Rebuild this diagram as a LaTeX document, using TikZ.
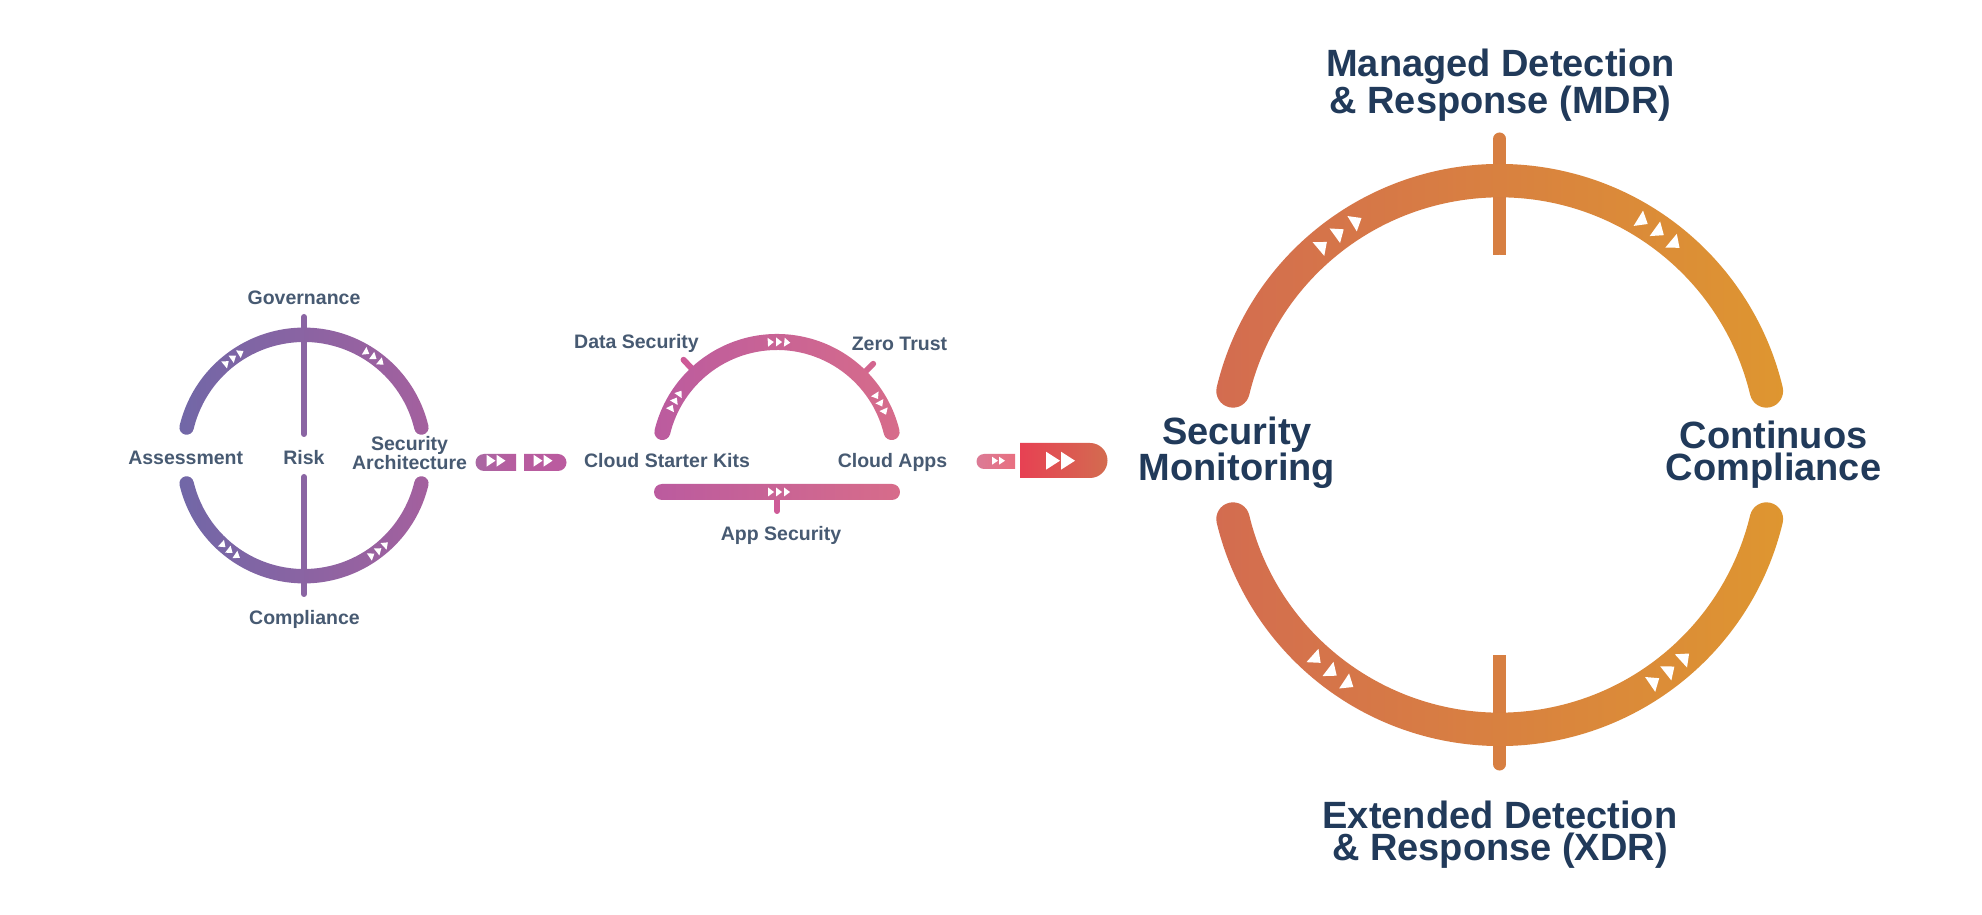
\documentclass[tikz,border=0pt]{standalone}
\usepackage{fontspec}
\setmainfont{Liberation Sans}
\definecolor{smalltxt}{HTML}{475A72}
\definecolor{bigtxt}{HTML}{213A5A}
\definecolor{purpleL}{HTML}{7167A7}
\definecolor{purpleM}{HTML}{8A65A3}
\definecolor{purpleR}{HTML}{A4609E}
\definecolor{pinkL}{HTML}{BB5B9F}
\definecolor{pinkM}{HTML}{CE5A97}
\definecolor{pinkR}{HTML}{D76C8A}
\definecolor{orangeL}{HTML}{D36C50}
\definecolor{orangeM}{HTML}{D77F42}
\definecolor{orangeR}{HTML}{DE9630}
% cx cy R halfwidth a1 a2 : clockwise band with round ends
\newcommand{\arcband}[6]{([shift={(#1,#2)}]#5:{#3+#4}) arc[start angle=#5,end angle=#6,radius={#3+#4}]
 arc[start angle=#6,end angle={#6-180},radius=#4]
 arc[start angle=#6,end angle=#5,radius={#3-#4}]
 arc[start angle={#5+180},end angle=#5,radius=#4] -- cycle}
% cx cy R angle base height rotation
\newcommand{\tip}[7]{\fill[white,shift={(#1,#2)},shift={(#4:#3)},rotate=#7] ({-#6/2},{-#5/2}) -- ({#6/2},0) -- ({-#6/2},{#5/2}) -- cycle;}
% three tips along an arc: cx cy R base height a b c, clockwise sign
\newcommand{\tripleCW}[8]{\tip{#1}{#2}{#3}{#6}{#4}{#5}{#6-90}\tip{#1}{#2}{#3}{#7}{#4}{#5}{#7-90}\tip{#1}{#2}{#3}{#8}{#4}{#5}{#8-90}}
\newcommand{\tripleCCW}[8]{\tip{#1}{#2}{#3}{#6}{#4}{#5}{#6+90}\tip{#1}{#2}{#3}{#7}{#4}{#5}{#7+90}\tip{#1}{#2}{#3}{#8}{#4}{#5}{#8+90}}
\tikzset{
 smalllbl/.style={text=smalltxt,font=\fontsize{19.5}{16}\selectfont\bfseries,align=center,inner sep=0pt,anchor=base},
 biglbl/.style={text=bigtxt,font=\fontsize{38}{32}\selectfont\bfseries,align=center,inner sep=0pt,anchor=base},
 purpleband/.style={left color=purpleL,middle color=purpleM,right color=purpleR},
 pinkband/.style={left color=pinkL,middle color=pinkM,right color=pinkR},
 orangeband/.style={left color=orangeL,middle color=orangeM,right color=orangeR},
 stubline/.style={line cap=round}
}
\begin{document}
\begin{tikzpicture}[x=1pt,y=1pt]
\useasboundingbox (0,0) rectangle (1982,914);
\fill[white] (0,0) rectangle (1982,914);
% left ring
\draw[purpleM,line width=6pt,stubline] (304,597) -- (304,480);
\draw[purpleM,line width=6pt,stubline] (304,437) -- (304,320);
\shade[purpleband] \arcband{304}{458.5}{120.7}{7.2}{166.6}{13.4};
\shade[purpleband] \arcband{304}{458.5}{120.7}{7.2}{-13.4}{-166.6};
\tripleCW{304}{458.5}{120.7}{9}{6}{130}{125.7}{121.5}
\tripleCW{304}{458.5}{120.7}{9}{6}{58.7}{54.5}{50.2}
\tripleCCW{304}{458.5}{120.7}{9}{6}{228}{232.3}{236.5}
\tripleCCW{304}{458.5}{120.7}{9}{6}{304.2}{308.4}{312.6}
\node[smalllbl] (gov) at (304,609.7) {Governance};
\node[smalllbl] (ass) at (185.7,449) {Assessment};
\node[smalllbl] (risk) at (304,449) {Risk};
\node[smalllbl] (sec) at (409.6,444) {Security\\Architecture};
\node[smalllbl] (com) at (304.5,289) {Compliance};
% pills
\shade[left color=purpleR!95!white,right color=pinkL!85!purpleR] (516,443) -- (484,443) arc[start angle=270,end angle=90,radius=8.5] -- (516,460) -- cycle;
\shade[left color=pinkL!85!purpleR,right color=pinkL] (524,443) -- (558,443) arc[start angle=-90,end angle=90,radius=8.5] -- (524,460) -- cycle;
% middle arc
\draw[pinkM,line width=6pt,stubline] ([shift={(777,454)}]133:137) -- ([shift={(777,454)}]133:120);
\draw[pinkR!60!pinkM,line width=6pt,stubline] ([shift={(777,454)}]45:136) -- ([shift={(777,454)}]45:120);
\draw[pinkM,line width=6pt,stubline] (777,414) -- (777,403);
\shade[pinkband] \arcband{777}{454}{118}{8}{166.3}{13.7};
\shade[pinkband] (662,414) arc[start angle=270,end angle=90,radius=8] -- (892,430) arc[start angle=90,end angle=-90,radius=8] -- cycle;
\tripleCW{777}{454}{118}{9}{6}{93}{89}{85}
\tripleCW{777}{454}{118}{9}{6}{153.6}{149.5}{145.5}
\tripleCW{777}{454}{118}{9}{6}{32.6}{28.4}{24}
\foreach \px in {771,779,787}{\fill[white] ({\px-3},417.5) -- ({\px+3},422) -- ({\px-3},426.5) -- cycle;}
\node[smalllbl] (data) at (636.5,565) {Data Security};
\node[smalllbl] (zero) at (899.5,563.3) {Zero Trust};
\node[smalllbl] (kits) at (667,446) {Cloud Starter Kits};
\node[smalllbl] (apps) at (892.5,446) {Cloud Apps};
\node[smalllbl] (appsec) at (781,373.3) {App Security};
% pills right
\shade[left color=pinkR!90!white,right color=pinkR!70!red!80!white] (1015,445) -- (984,445) arc[start angle=270,end angle=90,radius=7.5] -- (1015,460) -- cycle;
\shade[left color=red!40!pinkR,right color=orangeL] (1020,436) -- (1090,436) arc[start angle=-90,end angle=90,radius=17.5] -- (1020,471) -- cycle;
% pill tips
\foreach \px/\hh/\hw in {491/6/4.5,501/6/4.5,538/6/4.5,548/6/4.5,995/4/3,1002/4/3,1053/9/7,1068/9/7}{\fill[white] ({\px-\hw},{453.3-\hh}) -- ({\px+\hw},453.3) -- ({\px-\hw},{453.3+\hh}) -- cycle;}
% right ring
\draw[orangeM,line width=13pt,stubline] (1499.7,150) -- (1499.7,775);
\shade[orangeband] \arcband{1499.7}{459}{274.3}{16.7}{166.5}{13.5};
\shade[orangeband] \arcband{1499.7}{459}{274.3}{16.7}{-13.5}{-166.5};
\fill[white] (1499.7,459) circle (200);
\tripleCW{1499.7}{459}{274.3}{18}{11}{130.2}{125.8}{121.4}
\tripleCW{1499.7}{459}{274.3}{18}{11}{58.5}{54.4}{50.2}
\tripleCCW{1499.7}{459}{274.3}{18}{11}{228.1}{232.4}{236.6}
\tripleCCW{1499.7}{459}{274.3}{18}{11}{304.4}{308.4}{312.5}
\node[biglbl] (mdr) at (1500.5,800.7) {Managed Detection\\\& Response (MDR)};
\node[biglbl] (xdr) at (1500,54) {Extended Detection\\\& Response (XDR)};
\node[biglbl] (mon) at (1237,433.3) {Security\\Monitoring};
\node[biglbl] (cc) at (1773.5,433) {Continuos\\Compliance};
\end{tikzpicture}
\end{document}
